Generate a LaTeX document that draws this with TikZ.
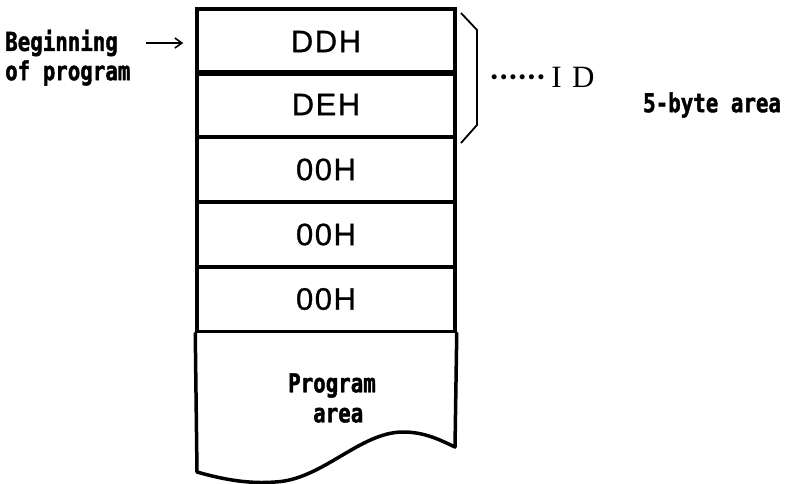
\documentclass[tikz,border=0pt]{standalone}
\usepackage{fontspec}
\setmainfont{Liberation Sans}
\newfontfamily\labelfont[FakeStretch=0.8, FakeBold=1.5]{DejaVu Sans Mono}
\newfontfamily\cellfont[FakeBold=0.8, LetterSpace=5]{Liberation Sans}
\newfontfamily\idfont{Liberation Serif}
\usetikzlibrary{arrows.meta}

\tikzset{
  frame/.style={line width=3.5pt, line join=round, line cap=round},
  cell/.style={draw, line width=3.5pt, minimum width=258pt, minimum height=65pt,
    inner sep=0pt, font=\cellfont\fontsize{31}{32}\selectfont},
  lbl/.style={inner sep=0pt, font=\labelfont\bfseries\fontsize{26}{30}\selectfont},
  brace/.style={line width=1.8pt, line join=round},
  pointer/.style={line width=1.6pt, -{Straight Barb[length=7pt, width=10pt, line width=1.6pt]}}
}

\begin{document}
\begin{tikzpicture}[x=1pt, y=-1pt]
  \useasboundingbox (0,0) rectangle (785,483);

  % memory cells of the 5-byte header
  \node[cell] (c1) at (326,41.5)  {DDH};
  \node[cell] (c2) at (326,104.5) {DEH};
  \node[cell] (c3) at (326,169.5) {00H};
  \node[cell] (c4) at (326,234.5) {00H};
  \node[cell] (c5) at (326,299)   {00H};

  % program area with torn (wavy) bottom edge
  \coordinate (pl) at (c5.south west);
  \coordinate (pr) at (c5.south east);
  \draw[frame] (pl) -- (197,472)
    .. controls (225,480) and (250,484) .. (275,482)
    .. controls (322,480) and (360,432) .. (403,432)
    .. controls (425,432) and (440,440) .. (455,447) -- (pr);
  \node[lbl, align=center] (prog) at (332,398) {Program\\\ area};

  % start-of-program pointer
  \node[lbl, anchor=west] (beg) at (5,43) {Beginning};
  \node[lbl, anchor=west] (ofp) at (5,73) {of program};
  \draw[pointer] ([xshift=28pt]beg.east) -- ([xshift=-12pt]c1.west |- beg.east);

  % brace over the two ID bytes
  \coordinate (b1) at (461,13);
  \coordinate (b2) at (477,30);
  \coordinate (b3) at (477,125);
  \coordinate (b4) at (461,143);
  \draw[brace] (b1) -- (b2) -- (b3) -- (b4);
  \node[anchor=west, inner sep=0pt, font=\idfont\fontsize{31}{32}\selectfont] (id)
    at (489,77) {\textbf{\textperiodcentered\kern-1pt\textperiodcentered\kern-1pt\textperiodcentered\kern-1pt\textperiodcentered\kern-1pt\textperiodcentered\kern-1pt\textperiodcentered}\,I\,\,D};

  \node[lbl, anchor=west] (area) at (643,105) {5-byte area};
\end{tikzpicture}
\end{document}
